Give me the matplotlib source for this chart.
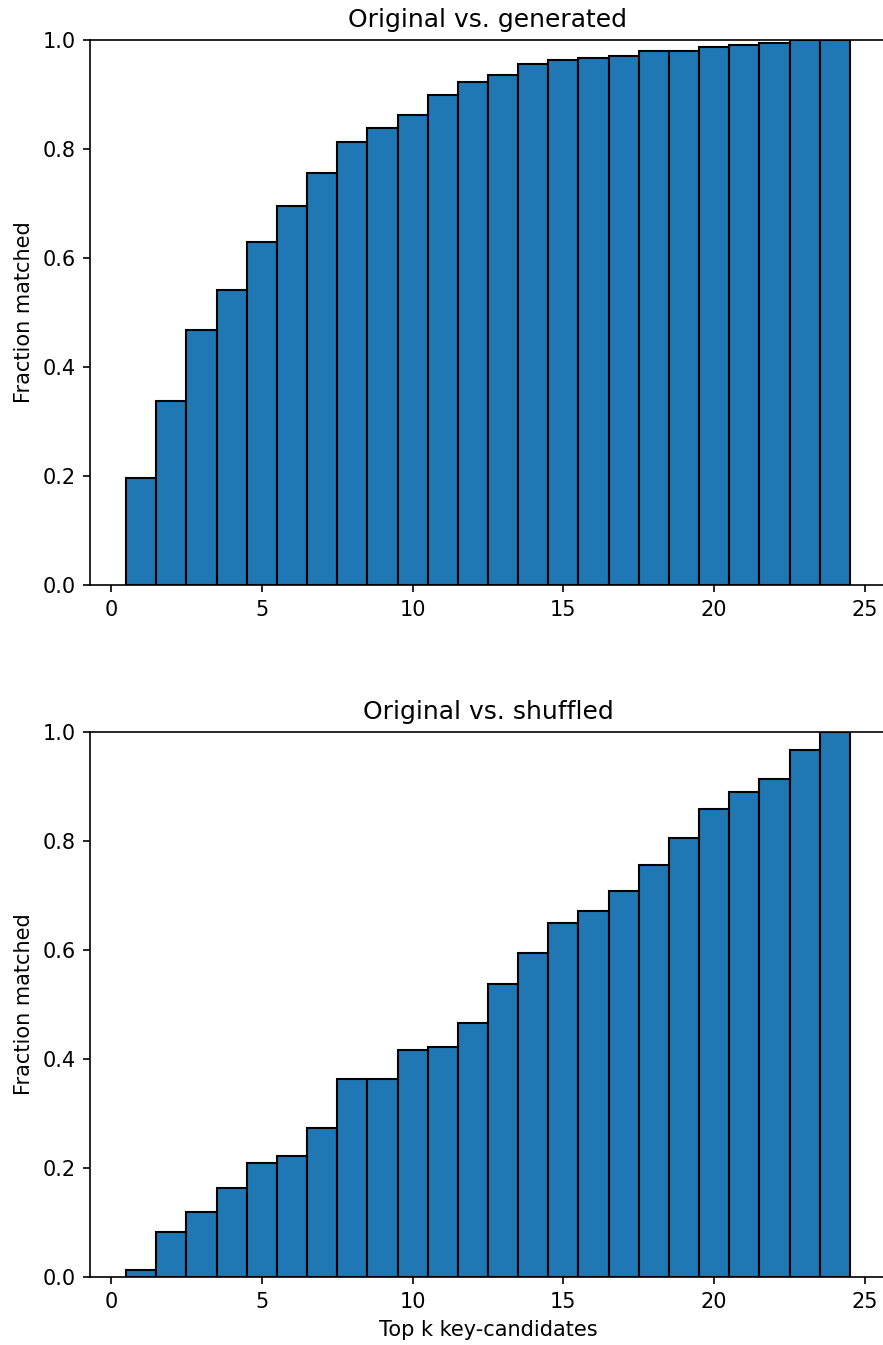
import matplotlib
matplotlib.use("Agg")
import matplotlib.pyplot as plt

k_values = list(range(1, 25))
generated_frac = [0.197, 0.338, 0.468, 0.541, 0.629, 0.695, 0.756, 0.813, 0.839, 0.862,
                  0.899, 0.923, 0.936, 0.956, 0.963, 0.967, 0.971, 0.980, 0.980, 0.987,
                  0.991, 0.994, 1.0, 1.0]
shuffled_frac = [0.013, 0.083, 0.119, 0.163, 0.209, 0.222, 0.273, 0.363, 0.363, 0.417,
                 0.422, 0.466, 0.538, 0.594, 0.649, 0.672, 0.708, 0.756, 0.805, 0.859,
                 0.890, 0.914, 0.967, 1.0]
titles = ["Original vs. generated", "Original vs. shuffled"]

W, H = 883, 1345
dpi = 150
fig = plt.figure(figsize=(W / dpi, H / dpi), dpi=dpi)

left = 90 / W
width = 796 / W
axes_specs = [(1 - 585 / H, 545 / H), (1 - 1277 / H, 545 / H)]

for (bottom, height), data, title in zip(axes_specs, [generated_frac, shuffled_frac], titles):
    ax = fig.add_axes([left, bottom, width, height])
    ax.bar(k_values, data, width=1.0, color="#1f77b4", edgecolor="black", linewidth=1.0)
    ax.set_ylim(0, 1.0)
    ax.set_xticks([0, 5, 10, 15, 20, 25])
    ax.set_yticks([0.0, 0.2, 0.4, 0.6, 0.8, 1.0])
    ax.set_ylabel("Fraction matched")
    ax.set_title(title)
    ax.spines["right"].set_visible(False)
    if title == titles[1]:
        ax.set_xlabel("Top k key-candidates")

fig.savefig("out.png", dpi=dpi)
